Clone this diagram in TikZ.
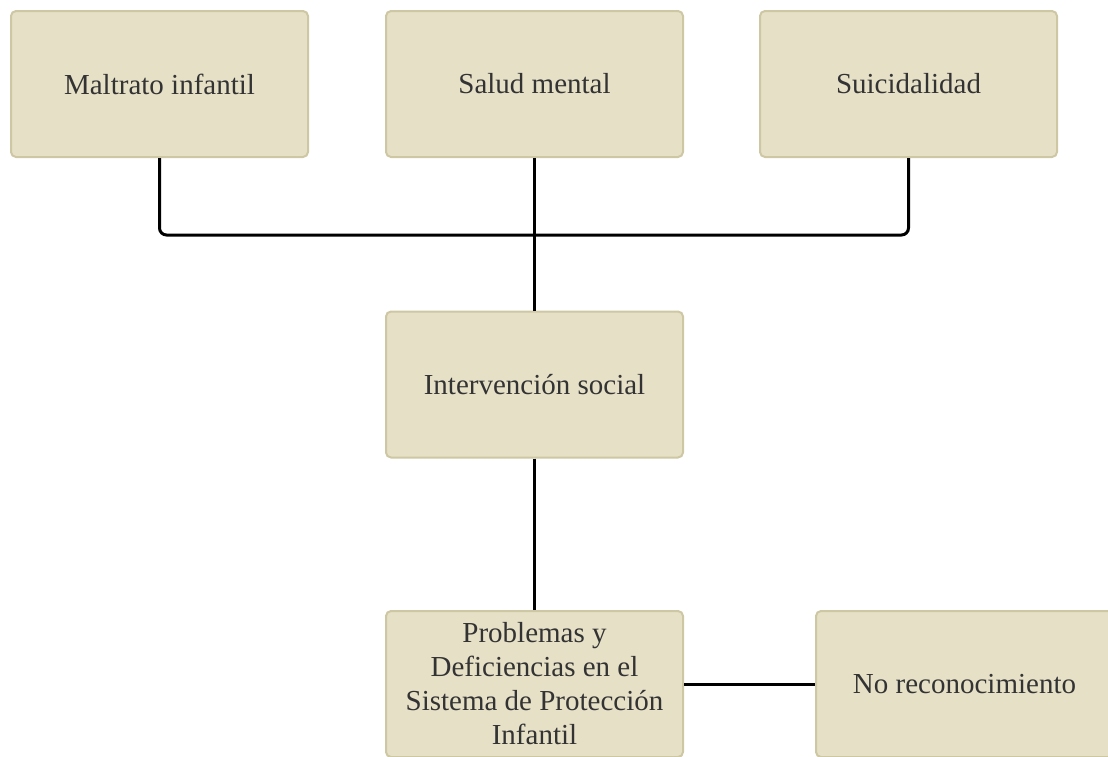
\documentclass[tikz,border=0pt]{standalone}
\usepackage{fontspec}
\setmainfont{Liberation Serif}
\usepackage{xcolor}
\usepackage{tikz}
\usetikzlibrary{positioning,calc}

\definecolor{boxfill}{RGB}{230,224,199}
\definecolor{boxline}{RGB}{206,199,163}
\definecolor{boxtext}{RGB}{51,51,51}

\tikzset{
  topic/.style={draw=boxline, fill=boxfill, line width=2pt, rounded corners=5pt,
    minimum width=297pt, minimum height=146pt, align=center, text=boxtext,
    font=\fontsize{29}{34}\selectfont, inner sep=0pt},
  link/.style={line width=3pt, black, rounded corners=7pt}
}

\begin{document}
\begin{tikzpicture}[x=1pt,y=-1pt]
    % page frame
    \useasboundingbox (0,0) rectangle (1108,756);
    \clip (0,0) rectangle (1108,756);

    % boxes
    \node[topic] (maltrato) at (159.5,84) {Maltrato infantil};
    \node[topic] (salud) at (534.5,84) {Salud mental};
    \node[topic] (suicidio) at (908.5,84) {Suicidalidad};
    \node[topic] (interv) at (534.5,384.5) {Intervención social};
    \node[topic] (problemas) at (534.5,684) {Problemas y\\Deficiencias en el\\Sistema de Protección\\Infantil};
    \node[topic] (norecon) at (964.5,684) {No reconocimiento};

    % connectors
    \draw[link] (maltrato.south) -- ++(0,77) -| (suicidio.south);
    \draw[link] (salud.south) -- (interv.north);
    \draw[link] (interv.south) -- (problemas.north);
    \draw[link] (problemas.east) -- (norecon.west);
\end{tikzpicture}
\end{document}
